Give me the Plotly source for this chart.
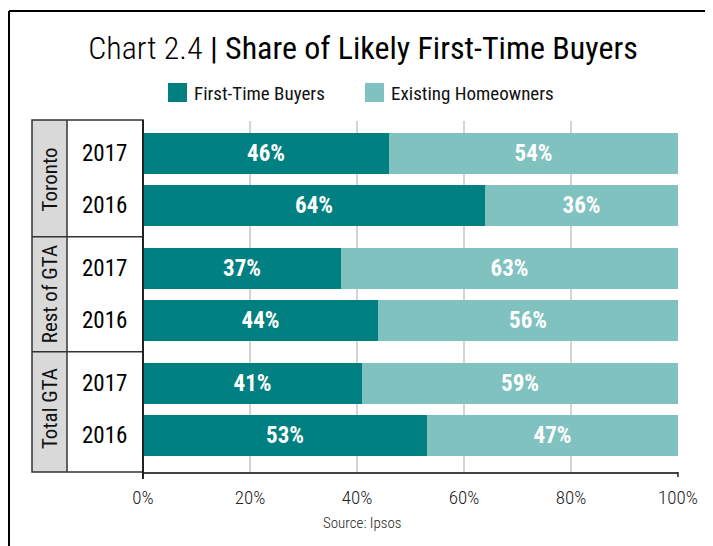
import plotly.graph_objects as go

# ---- data ----
groups = ["Toronto", "Rest of GTA", "Total GTA"]
years = ["2017", "2016"]
first_time = [46, 64, 37, 44, 41, 53]      # % First-Time Buyers (rows in order)
existing = [54, 36, 63, 56, 59, 47]        # % Existing Homeowners
series_names = ["First-Time Buyers", "Existing Homeowners"]
xticks = [0, 20, 40, 60, 80, 100]
xticklabels = ["0%", "20%", "40%", "60%", "80%", "100%"]

# ---- layout constants (pixel values are page pixels; page has 8px body margin) ----
OFF = 8
W, H = 713 - OFF, 546 - OFF
L, R, T, B = 143 - OFF, 35, 121 - OFF, 74
ROW, GROUP = 52, 115
DARK, LIGHT = "#008080", "#80C2C0"
FONT = "Roboto Condensed, Liberation Sans Narrow, Roboto, sans-serif"

pos = []
row_year = []
for gi, g in enumerate(groups):
    for yi, yr in enumerate(years):
        pos.append(gi * GROUP + yi * ROW)
        row_year.append(yr)

PW = W - L - R
PH = H - T - B

def px_x(p):
    return (p - OFF - L) / PW

def px_y(p):
    return (H + OFF - B - p) / PH

fig = go.Figure()
for vals, name, col in [(first_time, series_names[0], DARK),
                        (existing, series_names[1], LIGHT)]:
    fig.add_trace(go.Bar(
        y=pos, x=vals, orientation="h", name=name,
        marker=dict(color=col, line=dict(width=0)), width=41,
        text=[f"{v}%" for v in vals], textposition="inside",
        insidetextanchor="middle",
        textfont=dict(color="white", size=23, family=FONT, weight="bold"),
        showlegend=False,
    ))

shapes = []
# outer frame (left and top edges)
shapes.append(dict(type="line", xref="paper", yref="paper",
                   x0=px_x(9), x1=px_x(720), y0=px_y(11), y1=px_y(11),
                   line=dict(color="black", width=2)))
shapes.append(dict(type="line", xref="paper", yref="paper",
                   x0=px_x(9), x1=px_x(9), y0=px_y(11), y1=px_y(560),
                   line=dict(color="black", width=2)))
# table: grey group column
shapes.append(dict(type="rect", xref="paper", yref="paper",
                   x0=px_x(32), x1=px_x(67), y0=0, y1=px_y(120),
                   fillcolor="#D9D9D9", line=dict(width=0), layer="below"))
# table outer box
shapes.append(dict(type="rect", xref="paper", yref="paper",
                   x0=px_x(32), x1=0, y0=0, y1=px_y(120),
                   line=dict(color="#333333", width=1.5)))
shapes.append(dict(type="line", xref="paper", yref="paper",
                   x0=px_x(67), x1=px_x(67), y0=0, y1=px_y(120),
                   line=dict(color="#333333", width=1.5)))
for gi in range(1, len(groups)):
    ysep = (gi - 1) * GROUP + ROW + (GROUP - ROW) / 2
    shapes.append(dict(type="line", xref="paper", yref="y",
                       x0=px_x(32), x1=0, y0=ysep, y1=ysep,
                       line=dict(color="#333333", width=1.5)))
# left axis line extending below the x axis, and end tick
shapes.append(dict(type="line", xref="paper", yref="paper",
                   x0=0, x1=0, y0=px_y(479), y1=px_y(120),
                   line=dict(color="#222222", width=2)))
shapes.append(dict(type="line", xref="paper", yref="paper",
                   x0=1, x1=1, y0=px_y(477), y1=0,
                   line=dict(color="#222222", width=1.5)))

# custom legend
leg_sq = [(168, DARK), (365, LIGHT)]
annotations = []
for (lx, col), name in zip(leg_sq, series_names):
    shapes.append(dict(type="rect", xref="paper", yref="paper",
                       x0=px_x(lx), x1=px_x(lx + 19), y0=px_y(102), y1=px_y(83),
                       fillcolor=col, line=dict(width=0)))
    annotations.append(dict(xref="paper", yref="paper", x=px_x(lx + 24), y=px_y(93),
                            text=name, showarrow=False, xanchor="left",
                            yanchor="middle",
                            font=dict(family=FONT, size=19, color="#111111")))

for gi, g in enumerate(groups):
    yc = gi * GROUP + ROW / 2
    annotations.append(dict(xref="paper", yref="y", x=px_x(50), y=yc,
                            text=g, textangle=-90, showarrow=False,
                            font=dict(family=FONT, size=21, color="#111111"),
                            xanchor="center", yanchor="middle"))
for p, yr in zip(pos, row_year):
    annotations.append(dict(xref="paper", yref="y", x=px_x(104), y=p,
                            text=yr, showarrow=False,
                            font=dict(family=FONT, size=23, color="black"),
                            xanchor="center", yanchor="middle"))
annotations.append(dict(xref="paper", yref="paper", x=px_x(362), y=px_y(523),
                        text="Source: Ipsos", showarrow=False,
                        font=dict(family=FONT, size=15, color="#222222", weight=300),
                        xanchor="center", yanchor="middle"))

fig.update_layout(
    width=W, height=H,
    margin=dict(l=L, r=R, t=T, b=B, pad=0),
    paper_bgcolor="white", plot_bgcolor="white",
    barmode="stack", bargap=0,
    title=dict(
        text="<span style='font-weight:300'>Chart 2.4</span> | Share of Likely First-Time Buyers",
        x=(363 - OFF) / W, xanchor="center", y=1 - (48 - OFF) / H, yanchor="middle",
        font=dict(family=FONT, size=32, color="black", weight=400),
    ),
    xaxis=dict(range=[0, 100], tickvals=xticks, ticktext=xticklabels,
               showgrid=True, gridcolor="#D4D4D4", gridwidth=1.5,
               zeroline=False, showline=True, linecolor="#444444", linewidth=2,
               ticks="", tickfont=dict(family=FONT, size=19, color="#222222", weight=300),
               ticklabelstandoff=7, fixedrange=True),
    yaxis=dict(range=[pos[-1] + 37, -32.5], showticklabels=False,
               showgrid=False, zeroline=False, showline=False, ticks="",
               fixedrange=True),
    shapes=shapes, annotations=annotations,
    showlegend=False,
)

fig.write_html("out.html")
